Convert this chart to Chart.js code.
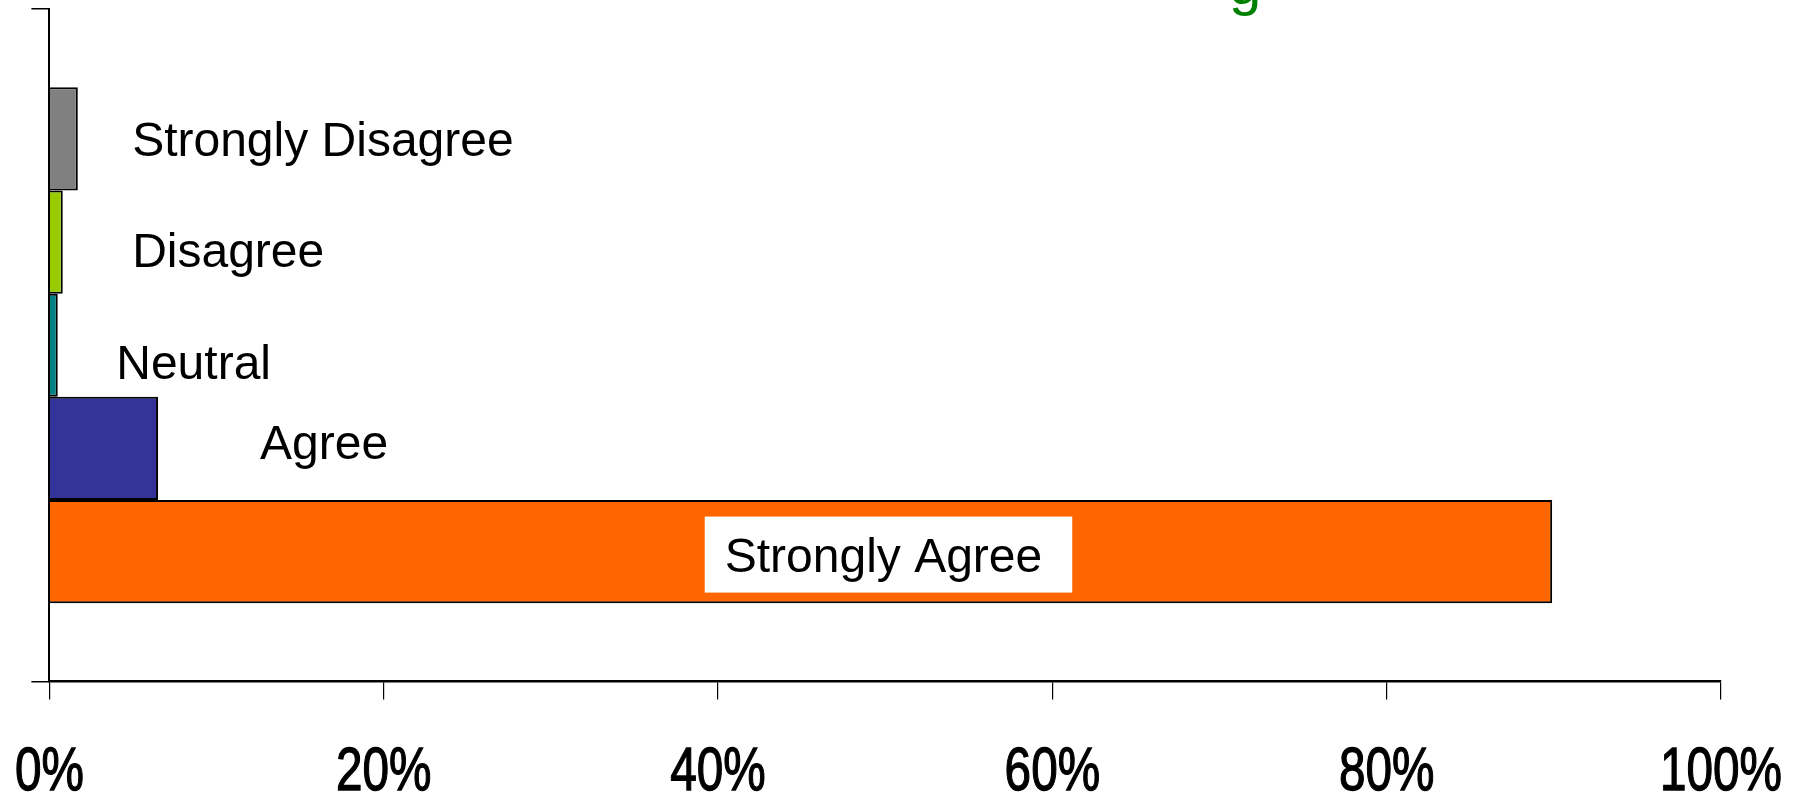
<!DOCTYPE html>
<html>
<head>
<meta charset="utf-8">
<script src="https://cdn.jsdelivr.net/npm/chart.js@4"></script>
<style>
  html, body { margin: 0; padding: 0; background: #fff; }
  canvas { display: block; }
</style>
</head>
<body>
<canvas id="surveyChart" width="1802" height="792"></canvas>
<script>
// Survey responses (% of respondents)
const responseNames = ['Strongly Disagree', 'Disagree', 'Neutral', 'Agree', 'Strongly Agree'];
const responseValues = [1.7, 0.8, 0.5, 6.5, 89.9];
const responseColors = ['#808080', '#99CC00', '#008080', '#333399', '#FF6600'];
const categoryLabels = [''];
const tickValues = [0, 20, 40, 60, 80, 100];

// where the series-name labels sit: x in axis % units, y offset from bar centre
const labelAtValue = [4.95, 4.95, 4.0, 12.6, 40.4];
const labelShiftY = [0, 8, 17, -6, 3];

const TEXT_FONT = '48px "Liberation Sans", Arial, sans-serif';
const TICK_FONT = '62px "Liberation Sans", Arial, sans-serif';

// draws the series-name labels next to each bar (Excel style)
const seriesNameLabels = {
    id: 'seriesNameLabels',
    afterDatasetsDraw(chart) {
        const ctx = chart.ctx;
        const xScale = chart.scales.x;
        ctx.save();
        ctx.font = TEXT_FONT;
        ctx.textBaseline = 'alphabetic';
        ctx.textAlign = 'left';
        responseNames.forEach((name, i) => {
            const bar = chart.getDatasetMeta(i).data[0];
            if (!bar) return;
            const x = xScale.getPixelForValue(labelAtValue[i]);
            const capMid = bar.y + labelShiftY[i];
            if (i === responseNames.length - 1) {
                // white box behind the label inside the big bar
                const w = ctx.measureText(name).width;
                ctx.fillStyle = '#ffffff';
                ctx.fillRect(x - 20, capMid - 38, w + 50, 76);
            }
            ctx.fillStyle = '#000000';
            ctx.fillText(name, x, capMid + 17);
        });
        // the title sits above the picture; only the tail of its "g" shows
        ctx.fillStyle = '#008000';
        ctx.font = '58px "Liberation Sans", Arial, sans-serif';
        ctx.fillText('g', 1229, 4);
        ctx.restore();
    }
};

// narrow percent labels under the x axis
const narrowTickLabels = {
    id: 'narrowTickLabels',
    afterDraw(chart) {
        const ctx = chart.ctx;
        const xScale = chart.scales.x;
        ctx.save();
        ctx.font = TICK_FONT;
        ctx.fillStyle = '#000000';
        ctx.strokeStyle = '#000000';
        ctx.lineWidth = 1.3;
        ctx.textAlign = 'center';
        ctx.textBaseline = 'alphabetic';
        xScale.ticks.forEach(t => {
            const px = xScale.getPixelForValue(t.value);
            ctx.save();
            ctx.translate(px, xScale.top + 108.5);
            ctx.scale(0.77, 1);
            ctx.fillText(t.value + '%', 0, 0);
            ctx.strokeText(t.value + '%', 0, 0);
            ctx.restore();
        });
        ctx.restore();
    }
};

const ctx = document.getElementById('surveyChart').getContext('2d');
const surveyChart = new Chart(ctx, {
    type: 'bar',
    data: {
        labels: categoryLabels,
        datasets: responseNames.map((name, i) => ({
            label: name,
            data: [responseValues[i]],
            backgroundColor: responseColors[i],
            borderColor: '#000000',
            borderWidth: 2,
            categoryPercentage: 0.767,
            barPercentage: 1.0
        }))
    },
    options: {
        indexAxis: 'y',
        responsive: false,
        animation: false,
        devicePixelRatio: 1,
        layout: { padding: { top: 9, right: 81, left: 0, bottom: 0 } },
        plugins: {
            legend: { display: false },
            tooltip: { enabled: false },
            title: { display: false }
        },
        scales: {
            x: {
                type: 'linear',
                min: 0,
                max: 100,
                afterBuildTicks: (scale) => { scale.ticks = tickValues.map(v => ({ value: v })); },
                afterFit: (scale) => { scale.height = 110.5; },
                grid: {
                    drawOnChartArea: false,
                    drawTicks: true,
                    tickLength: 18,
                    color: '#000000',
                    lineWidth: 1.2
                },
                border: { display: true, color: '#000000', width: 2.5 },
                ticks: { display: false }
            },
            y: {
                type: 'category',
                afterFit: (scale) => { scale.width = 49.4; },
                grid: {
                    drawOnChartArea: false,
                    drawTicks: true,
                    tickLength: 18,
                    color: '#000000',
                    lineWidth: 1.5,
                    offset: true
                },
                border: { display: true, color: '#000000', width: 2 },
                ticks: { display: false }
            }
        }
    },
    plugins: [seriesNameLabels, narrowTickLabels]
});
</script>
</body>
</html>
